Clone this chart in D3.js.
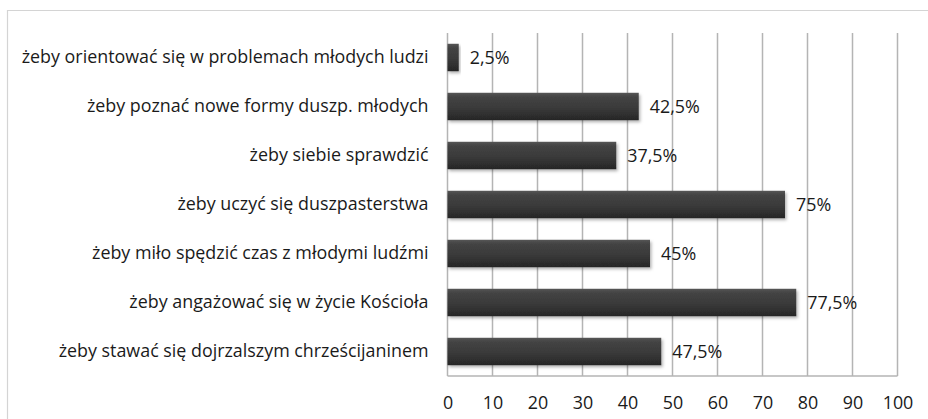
<!DOCTYPE html>
<html><head><meta charset="utf-8">
<script src="https://cdn.jsdelivr.net/npm/d3@7"></script>
<style>body{margin:0;background:#fff}svg{display:block}</style>
</head><body>
<svg id="c" width="928" height="419"></svg>
<script>
const categories = [
  "żeby orientować się w problemach młodych ludzi",
  "żeby poznać nowe formy duszp. młodych",
  "żeby siebie sprawdzić",
  "żeby uczyć się duszpasterstwa",
  "żeby miło spędzić czas z młodymi ludźmi",
  "żeby angażować się w życie Kościoła",
  "żeby stawać się dojrzalszym chrześcijaninem "
];
const values = [2.5, 42.5, 37.5, 75, 45, 77.5, 47.5];
const valueLabels = ["2,5%", "42,5%", "37,5%", "75%", "45%", "77,5%", "47,5%"];
const tickValues = [0, 10, 20, 30, 40, 50, 60, 70, 80, 90, 100];

const svg = d3.select("#c");
const font = "'Open Sans', sans-serif";
const m = {left: 447.5, right: 897.5, top: 33, bottom: 376};

const probe = svg.append("text").attr("font-family", font).attr("font-size", 16).text(categories[0]);
const fs = Math.min(18, 16 * 407 / probe.node().getComputedTextLength());
probe.remove();

svg.append("path").attr("d", "M928,10.5H7.5V419").attr("fill","none").attr("stroke","#d4d4d4").attr("stroke-width",1.2);

const x = d3.scaleLinear().domain([0,100]).range([m.left, m.right]);
const y = d3.scaleBand().domain(categories).range([m.top, m.bottom]).paddingInner(0.44).paddingOuter(0.22);

const defs = svg.append("defs");
const g = defs.append("linearGradient").attr("id","bg").attr("x1",0).attr("y1",0).attr("x2",0).attr("y2",1);
g.append("stop").attr("offset","0%").attr("stop-color","#565656");
g.append("stop").attr("offset","15%").attr("stop-color","#444");
g.append("stop").attr("offset","60%").attr("stop-color","#383838");
g.append("stop").attr("offset","100%").attr("stop-color","#262626");
const f = defs.append("filter").attr("id","sh").attr("x","-10%").attr("y","-30%").attr("width","130%").attr("height","180%");
f.append("feDropShadow").attr("dx",1.5).attr("dy",2).attr("stdDeviation",1.5).attr("flood-color","#000").attr("flood-opacity",0.3);

svg.append("g").selectAll("line").data(tickValues).join("line")
  .attr("x1", d=>x(d)).attr("x2", d=>x(d)).attr("y1", m.top).attr("y2", m.bottom)
  .attr("stroke", "#b4b4b4").attr("stroke-width", 1.5);
svg.append("line").attr("x1", m.left).attr("x2", m.right).attr("y1", m.bottom).attr("y2", m.bottom)
  .attr("stroke", "#b4b4b4").attr("stroke-width", 1.5);

svg.append("g").selectAll("rect").data(values).join("rect")
  .attr("x", x(0)).attr("y", (d,i)=>y(categories[i]))
  .attr("width", d=>x(d)-x(0)).attr("height", y.bandwidth())
  .attr("fill","url(#bg)").attr("filter","url(#sh)");

svg.append("g").selectAll("text").data(values).join("text")
  .attr("x", d=>x(d)+11).attr("y", (d,i)=>y(categories[i])+y.bandwidth()/2)
  .attr("dy","0.35em").attr("font-family", font).attr("font-size", fs).attr("fill","#1a1a1a")
  .text((d,i)=>valueLabels[i]);

const yAxis = svg.append("g").attr("transform", `translate(${m.left},0)`)
  .call(d3.axisLeft(y).tickSize(0).tickPadding(19));
yAxis.select(".domain").remove();
yAxis.selectAll("text").attr("font-family", font).attr("font-size", fs).attr("fill","#1a1a1a");

const xAxis = svg.append("g").attr("transform", `translate(0,${m.bottom})`)
  .call(d3.axisBottom(x).tickValues(tickValues).tickSize(0).tickPadding(20));
xAxis.select(".domain").remove();
xAxis.selectAll("text").attr("font-family", font).attr("font-size", fs).attr("fill","#1a1a1a");
</script>
</body></html>
